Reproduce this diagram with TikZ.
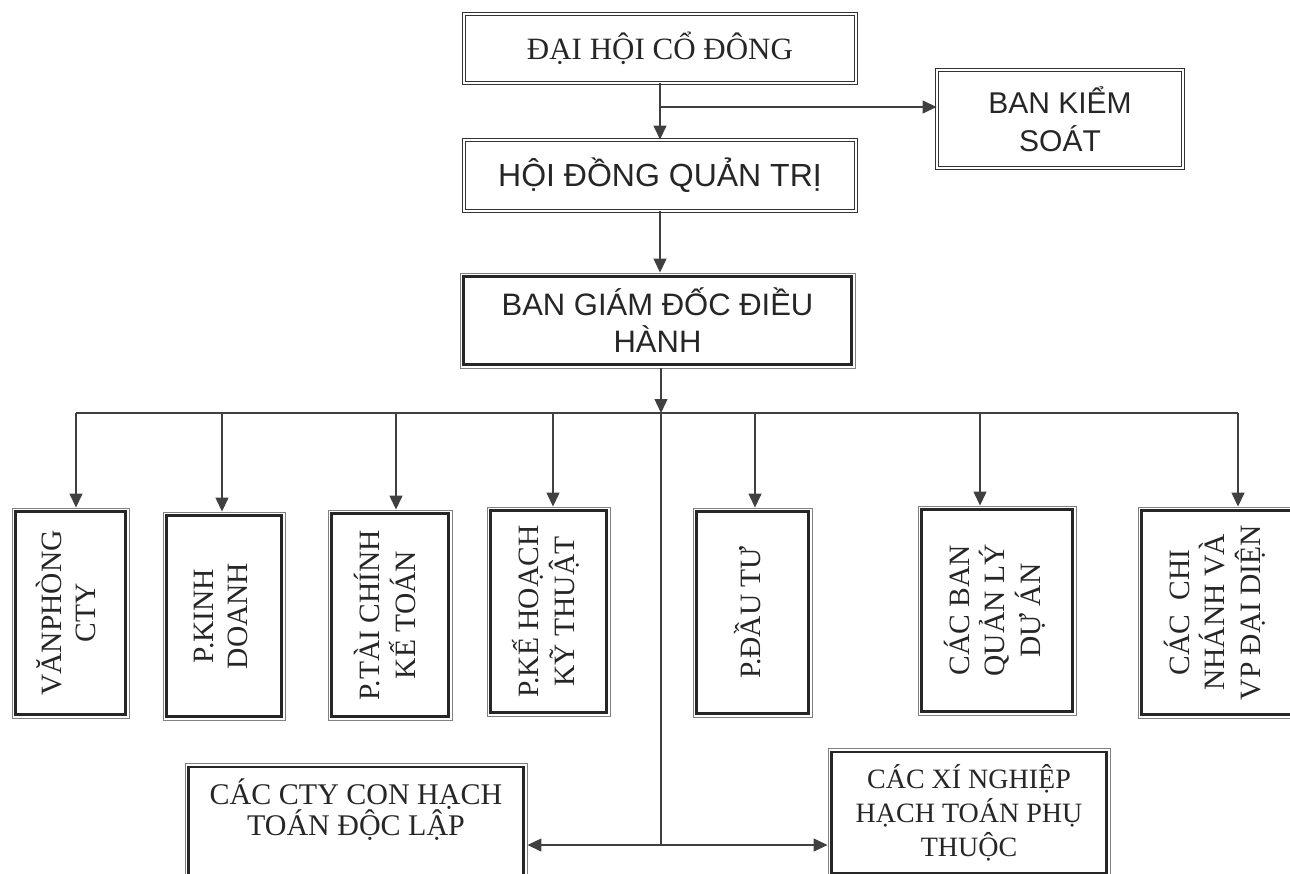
\documentclass[tikz,border=0pt]{standalone}
\usepackage{fontspec}
\setmainfont{Liberation Serif}
\setsansfont{Liberation Sans}
\usetikzlibrary{arrows.meta}
\newcommand{\vtext}[1]{\rotatebox{90}{\begin{tabular}{@{}c@{}}#1\end{tabular}}}

\begin{document}
\begin{tikzpicture}[
    x = 1pt, y = -1pt,
    >={Triangle[length=14pt,width=13pt]},
    thinbox/.style = {draw=black!80, double, double distance=2.5pt, line width=0.9pt, inner sep=0pt, text=black!85},
    frame/.style = {draw=black!50, line width=0.9pt, inner sep=0pt, text=black!85},
    dept/.style = {frame, font=\fontsize{29.5}{34}\selectfont},
    conn/.style = {draw=black!75, line width=1.3pt}]
    \useasboundingbox (0,0) rectangle (1290,873);
    % NODES
    % top of the chart
    \node[thinbox, minimum width=392pt, minimum height=69pt, font=\fontsize{31}{36}\selectfont] (DH) at (660,48.5) {ĐẠI HỘI CỔ ĐÔNG};
    \node[thinbox, minimum width=392pt, minimum height=71pt, font=\sffamily\fontsize{32}{38}\selectfont] (HD) at (660,175.5) {HỘI ĐỒNG QUẢN TRỊ};
    \node[thinbox, minimum width=246pt, minimum height=98pt, align=center, font=\sffamily\fontsize{30}{38}\selectfont] (BKS) at (1060,119) {BAN KIỂM\\SOÁT};
    \node[frame, minimum width=395pt, minimum height=95pt, align=center, font=\sffamily\fontsize{31}{37}\selectfont] (BGD) at (657.5,320.5) {BAN GIÁM ĐỐC ĐIỀU\\HÀNH};
    % departments
    \node[dept, minimum width=117pt, minimum height=210pt] (VP) at (70.5,613) {\vtext{VĂNPHÒNG\\CTY}};
    \node[dept, minimum width=122pt, minimum height=208pt] (KD) at (224,616) {\vtext{P.KINH\\DOANH}};
    \node[dept, minimum width=124pt, minimum height=210pt] (TC) at (390,615) {\vtext{P.TÀI CHÍNH\\KẾ TOÁN}};
    \node[dept, minimum width=123pt, minimum height=209pt] (KH) at (548.5,611.5) {\vtext{P.KẾ HOẠCH\\KỸ THUẬT}};
    \node[dept, minimum width=119pt, minimum height=209pt] (DT) at (752.5,612.5) {\vtext{P.ĐẦU TƯ}};
    \node[dept, minimum width=158pt, minimum height=209pt] (BQL) at (997,610.5) {\vtext{CÁC BAN\\QUẢN LÝ\\DỰ ÁN}};
    \node[dept, minimum width=158pt, minimum height=211pt] (CN) at (1217,612.5) {\vtext{CÁC~~CHI\\NHÁNH VÀ\\VP ĐẠI DIỆN}};
    % units at the bottom
    \node[frame, anchor=north, minimum width=342pt, inner ysep=15pt, align=center, font=\fontsize{30}{31}\selectfont] (CC) at (356,763) {CÁC CTY CON HẠCH\\TOÁN ĐỘC LẬP\\[12pt]\mbox{}};
    \node[frame, anchor=north, minimum width=282pt, inner ysep=16pt, align=center, font=\fontsize{28}{34}\selectfont] (XN) at (969,748) {CÁC XÍ NGHIỆP\\HẠCH TOÁN PHỤ\\THUỘC};
    % thick inner line of the framed boxes
    \foreach \n in {BGD,VP,KD,TC,KH,DT,BQL,CN,CC,XN}
      \draw[black!85, line width=2.6pt] ([shift={(3.8pt,-3.8pt)}]\n.north west) rectangle ([shift={(-3.8pt,3.8pt)}]\n.south east);

    % ARROWS
    \coordinate (branch) at (660,107);
    \coordinate (hub) at (661,413);
    \coordinate (split) at (661,845);
    \draw[conn,->] (DH.south) -- (HD.north);
    \draw[conn,->] (branch) -- (branch -| BKS.west);
    \draw[conn,->] (HD.south) -- (HD.south |- BGD.north);
    \draw[conn,->] (BGD.south -| hub) -- (hub);
    \foreach \n/\dx in {VP/5.5,KD/-2,TC/6,KH/4.5,DT/2.5,BQL/-17,CN/21}
      \coordinate (\n-in) at ([xshift=\dx pt]\n.north);
    \draw[conn] (VP-in |- hub) -- (CN-in |- hub);
    \foreach \n in {VP,KD,TC,KH,DT,BQL,CN}
      \draw[conn,->] (\n-in |- hub) -- (\n-in);
    \draw[conn] (hub) -- (split);
    \draw[conn,->] (split) -- (split -| CC.east);
    \draw[conn,->] (split) -- (split -| XN.west);
\end{tikzpicture}
\end{document}
